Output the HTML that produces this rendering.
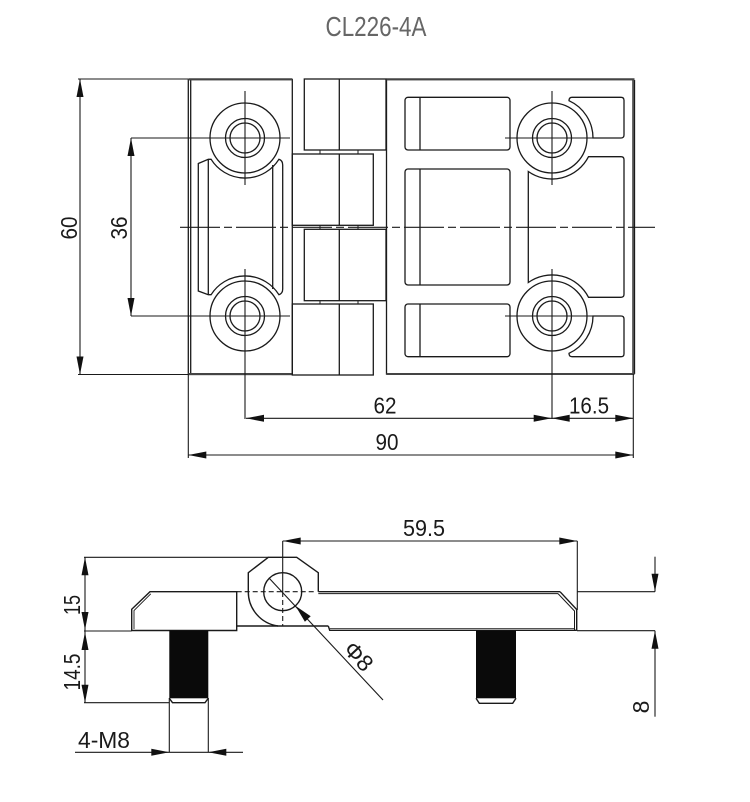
<!DOCTYPE html>
<html><head><meta charset="utf-8"><style>
html,body{margin:0;padding:0;background:#fff;}
svg{display:block;}
text{font-family:"Liberation Sans",sans-serif;fill:#1a1a1a;}
</style></head><body>
<svg width="750" height="802" viewBox="0 0 750 802" xmlns="http://www.w3.org/2000/svg">
<rect width="750" height="802" fill="#fff"/>
<text x="376" y="36" font-size="28" text-anchor="middle" textLength="101" lengthAdjust="spacingAndGlyphs" style="fill:#666">CL226-4A</text>

<g fill="none" stroke="#1a1a1a" stroke-width="1.3">
<!-- ===== TOP VIEW ===== -->
<rect x="188.3" y="79.5" width="104" height="295"/>
<line x1="190.7" y1="80" x2="190.7" y2="374"/>
<line x1="188.3" y1="79.3" x2="292.3" y2="79.3" stroke-width="2.2" stroke="#444"/>
<line x1="188.3" y1="374" x2="292.3" y2="374" stroke-width="2" stroke="#444"/>
<path d="M198.3,163.5 L208.3,159.3 L211.1,159.3 A40 40 0 0 0 278.9,159.3 Q282.7,160.5 282.7,165 L282.7,289 Q282.7,293.5 278.9,294.7 A40 40 0 0 0 211.1,294.7 L208.3,294.7 L198.3,291 Z"/>
<line x1="208.3" y1="159.5" x2="208.3" y2="294.5"/>
<line x1="272.7" y1="165" x2="272.7" y2="289"/>
<circle cx="245" cy="138" r="35"/>
<circle cx="245" cy="138" r="19.5"/>
<circle cx="245" cy="138" r="15"/>
<circle cx="245" cy="316" r="35"/>
<circle cx="245" cy="316" r="19.5"/>
<circle cx="245" cy="316" r="15"/>

<rect x="304.3" y="79" width="81.7" height="71"/>
<line x1="339.3" y1="79" x2="339.3" y2="150"/>
<rect x="292.3" y="154" width="81" height="71.3"/>
<line x1="339.3" y1="154" x2="339.3" y2="225.3"/>
<rect x="304.3" y="229.3" width="81.7" height="71.4"/>
<line x1="339.3" y1="229.3" x2="339.3" y2="300.7"/>
<rect x="292.3" y="304" width="81" height="71"/>
<line x1="339.3" y1="304" x2="339.3" y2="375"/>
<g stroke-width="1">
<line x1="320" y1="150" x2="320" y2="154"/><line x1="358" y1="150" x2="358" y2="154"/>
<line x1="320" y1="225.3" x2="320" y2="229.3"/><line x1="358" y1="225.3" x2="358" y2="229.3"/>
<line x1="320" y1="300.7" x2="320" y2="304"/><line x1="358" y1="300.7" x2="358" y2="304"/>
</g>

<rect x="386.5" y="79.5" width="246.5" height="294.5"/>
<line x1="634.5" y1="80" x2="634.5" y2="374"/>
<line x1="386.5" y1="79.3" x2="634.5" y2="79.3" stroke-width="2.2" stroke="#444"/>
<line x1="386.5" y1="374" x2="634.5" y2="374" stroke-width="2" stroke="#444"/>
<rect x="405" y="97.3" width="105" height="52.7" rx="3"/>
<line x1="420" y1="97.3" x2="420" y2="150"/>
<rect x="405" y="169" width="105" height="116" rx="3"/>
<line x1="420" y1="169" x2="420" y2="285"/>
<rect x="405" y="304" width="105" height="52.7" rx="3"/>
<line x1="420" y1="304" x2="420" y2="356.7"/>
<path d="M572,97.3 L621,97.3 Q624,97.3 624,100.3 L624,135 Q624,138 621,138 L593,138 A41 41 0 0 0 569,100.7 Q569,97.3 572,97.3 Z"/>
<path d="M588.5,156.7 L621,156.7 Q624,156.7 624,159.7 L624,294.3 Q624,297.3 621,297.3 L588.5,297.3 A41 41 0 0 0 528.3,282.5 L528.3,171.5 A41 41 0 0 0 588.5,156.7 Z"/>
<path d="M593,316 L621,316 Q624,316 624,319 L624,353.7 Q624,356.7 621,356.7 L572,356.7 Q569,356.7 569,353.3 A41 41 0 0 0 593,316 Z"/>
<circle cx="552" cy="138" r="35"/>
<circle cx="552" cy="138" r="19.5"/>
<circle cx="552" cy="138" r="15"/>
<circle cx="552" cy="316" r="35"/>
<circle cx="552" cy="316" r="19.5"/>
<circle cx="552" cy="316" r="15"/>
</g>

<g fill="none" stroke="#1a1a1a" stroke-width="1.1">
<line x1="131" y1="138" x2="290" y2="138"/>
<line x1="245" y1="91" x2="245" y2="185"/>
<line x1="131" y1="316" x2="290" y2="316"/>
<line x1="245" y1="269" x2="245" y2="419"/>
<line x1="505" y1="138" x2="600" y2="138"/>
<line x1="552" y1="91" x2="552" y2="185"/>
<line x1="505" y1="316" x2="600" y2="316"/>
<line x1="552" y1="269" x2="552" y2="419"/>
<line x1="180" y1="227.3" x2="655" y2="227.3" stroke-dasharray="40 4 8 4"/>

<line x1="78" y1="79" x2="188" y2="79"/>
<line x1="78" y1="374.5" x2="188" y2="374.5"/>
<line x1="80" y1="79" x2="80" y2="374.5"/>
<line x1="131" y1="138" x2="131" y2="316"/>
<line x1="188.3" y1="374" x2="188.3" y2="458"/>
<line x1="633.3" y1="374" x2="633.3" y2="458"/>
<line x1="246" y1="418.3" x2="633.3" y2="418.3"/>
<line x1="188.3" y1="455" x2="633.3" y2="455"/>

<!-- ===== SIDE VIEW ===== -->
<line x1="84" y1="557.3" x2="268.3" y2="557.3"/>
<line x1="84" y1="631" x2="131.7" y2="631"/>
<line x1="84" y1="702.7" x2="169.3" y2="702.7"/>
<line x1="85" y1="557.3" x2="85" y2="702.7"/>
<line x1="169.3" y1="698" x2="169.3" y2="752.3"/>
<line x1="208.3" y1="698" x2="208.3" y2="752.3"/>
<line x1="75" y1="752.3" x2="243" y2="752.3"/>
<line x1="282.7" y1="541" x2="282.7" y2="592"/>
<line x1="282.7" y1="541" x2="577.3" y2="541"/>
<line x1="577.3" y1="541" x2="577.3" y2="610"/>
<line x1="282.7" y1="592" x2="282.7" y2="626" stroke-dasharray="5 3"/>
<line x1="236.7" y1="591.7" x2="316.7" y2="591.7" stroke-dasharray="5 3"/>
<line x1="577" y1="591.7" x2="655" y2="591.7"/>
<line x1="577" y1="630.7" x2="655" y2="630.7"/>
<line x1="655" y1="556.7" x2="655" y2="591.7"/>
<line x1="655" y1="630.7" x2="655" y2="716.7"/>
<line x1="269" y1="578" x2="383" y2="700"/>
</g>

<g fill="none" stroke="#1a1a1a" stroke-width="1.4">
<path d="M248.3,591.7 L248.3,572.7 L268.3,557.3 L296.7,557.3 L318.3,572.7 L318.3,591.7"/>
<path d="M248.3,591.7 A34.5 34.5 0 0 0 278,626"/>
<circle cx="282.7" cy="591.7" r="19"/>
<line x1="318.3" y1="591.7" x2="560" y2="591.7"/>
<line x1="318.3" y1="593.6" x2="558" y2="593.6" stroke-width="1"/>
<path d="M560,591.7 L576.7,609.5 L576.7,630.7"/>
<path d="M558,593.6 L574.5,611 L574.5,630" stroke-width="1"/>
<line x1="236.7" y1="626" x2="328.3" y2="626"/>
<path d="M328.3,626 L329.7,630.3 L576.7,630.3"/>
<line x1="329.7" y1="628.6" x2="575" y2="628.6" stroke-width="0.8"/>
<path d="M236.7,591.7 L150,591.7 L131.7,609.3 L131.7,630.5 L236.7,630.5 Z"/>
<path d="M150.8,593.8 L134,610.5 L134,629" stroke-width="0.9"/>
<path d="M169.3,698.3 L172.5,702.7 L205,702.7 L208.3,698.3"/>
<path d="M476,698.3 L479.3,703.3 L512.7,703.3 L516,698.3"/>
</g>
<rect x="169.3" y="630.5" width="39" height="67.8" fill="#0a0a0a"/>
<rect x="476" y="630.5" width="40" height="67.8" fill="#0a0a0a"/>

<g fill="#111" stroke="none">
<polygon points="80,79 76.5,97 83.5,97"/>
<polygon points="80,374.5 76.5,356.5 83.5,356.5"/>
<polygon points="131,138 127.5,156 134.5,156"/>
<polygon points="131,316 127.5,298 134.5,298"/>
<polygon points="246,418.3 264,414.8 264,421.8"/>
<polygon points="551.7,418.3 533.7,414.8 533.7,421.8"/>
<polygon points="551.7,418.3 569.7,414.8 569.7,421.8"/>
<polygon points="633.3,418.3 615.3,414.8 615.3,421.8"/>
<polygon points="188.3,455 206.3,451.5 206.3,458.5"/>
<polygon points="633.3,455 615.3,451.5 615.3,458.5"/>
<polygon points="85,557.3 81.5,575.3 88.5,575.3"/>
<polygon points="85,630 81.5,612 88.5,612"/>
<polygon points="85,632 81.5,650 88.5,650"/>
<polygon points="85,702.7 81.5,684.7 88.5,684.7"/>
<polygon points="169.3,752.3 151.3,748.8 151.3,755.8"/>
<polygon points="208.3,752.3 226.3,748.8 226.3,755.8"/>
<polygon points="282.7,541 300.7,537.5 300.7,544.5"/>
<polygon points="577.3,541 559.3,537.5 559.3,544.5"/>
<polygon points="655,591.7 651.5,573.7 658.5,573.7"/>
<polygon points="655,630.7 651.5,648.7 658.5,648.7"/>
<polygon points="295.5,605.9 304.9,621.7 310.7,616.3"/>
</g>

<g font-size="23">
<text transform="translate(77,228) rotate(-90)" text-anchor="middle" textLength="23" lengthAdjust="spacingAndGlyphs">60</text>
<text transform="translate(127,228) rotate(-90)" text-anchor="middle" textLength="23" lengthAdjust="spacingAndGlyphs">36</text>
<text x="385" y="413.3" text-anchor="middle" textLength="23" lengthAdjust="spacingAndGlyphs">62</text>
<text x="589" y="413.3" text-anchor="middle" textLength="40" lengthAdjust="spacingAndGlyphs">16.5</text>
<text x="387" y="450" text-anchor="middle" textLength="23" lengthAdjust="spacingAndGlyphs">90</text>
<text transform="translate(80,605) rotate(-90)" text-anchor="middle" textLength="20" lengthAdjust="spacingAndGlyphs">15</text>
<text transform="translate(80,672) rotate(-90)" text-anchor="middle" textLength="37" lengthAdjust="spacingAndGlyphs">14.5</text>
<text x="78" y="748" textLength="52" lengthAdjust="spacingAndGlyphs">4-M8</text>
<text x="424" y="536" text-anchor="middle" textLength="42" lengthAdjust="spacingAndGlyphs">59.5</text>
<text transform="translate(649,707) rotate(-90)" text-anchor="middle">8</text>
<text transform="translate(358,657) rotate(47)" x="0" y="7" text-anchor="middle">Φ8</text>
</g>
</svg>
</body></html>
